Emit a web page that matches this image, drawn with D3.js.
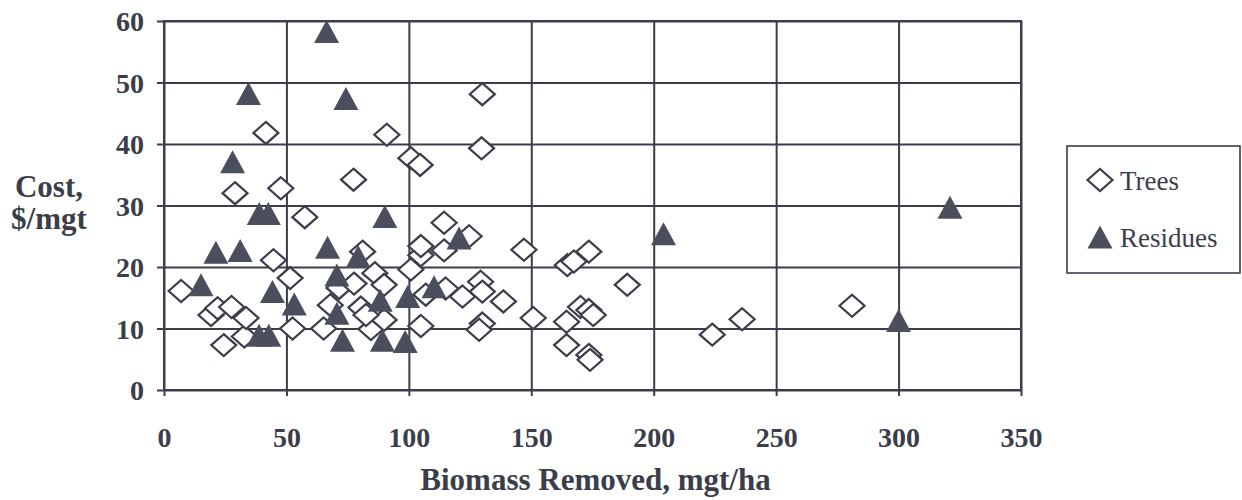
<!DOCTYPE html>
<html><head><meta charset="utf-8">
<script src="https://cdn.jsdelivr.net/npm/d3@7"></script>
<style>html,body{margin:0;padding:0;background:#fff;}svg{display:block;}</style>
</head><body>
<script>
// ---- data ----
const xTicks = [0, 50, 100, 150, 200, 250, 300, 350];
const yTicks = [0, 10, 20, 30, 40, 50, 60];
const seriesNames = ["Trees", "Residues"];
const treesX = [7, 19.2, 21.9, 24.4, 27.6, 29, 32.8, 33.5, 41.6, 44.7, 47.7, 51.5, 52.5, 57.5, 65.2, 67.9, 71.5, 77.4, 77.6, 80.4, 81.1, 84.5, 86.1, 89.9, 89.9, 91, 100.8, 104.6, 100.8, 104.9, 104.9, 106.9, 104.9, 114.4, 114.4, 115, 121.9, 124.6, 129.3, 130, 130, 128.7, 130, 129.7, 138.6, 147, 150.8, 164.7, 167.4, 173.5, 164.4, 164.4, 170.1, 173.5, 175.3, 173.5, 174, 189.2, 223.9, 236.1, 281, 82.5];
const treesY = [16.1, 12.2, 13.3, 7.3, 13.5, 32, 8.7, 11.7, 41.8, 21.1, 32.8, 18.2, 10.0, 28.1, 10.0, 13.8, 16.6, 34.2, 17.3, 13.4, 22.5, 9.9, 19, 17.1, 11.4, 41.5, 37.7, 36.6, 19.6, 21.9, 23.4, 15.5, 10.4, 27.2, 22.7, 16.5, 15.2, 25, 17.6, 16, 10.8, 9.8, 48.1, 39.3, 14.4, 22.8, 11.7, 20.3, 20.9, 22.5, 11.1, 7.3, 13.5, 13.0, 12.2, 5.7, 4.9, 17.1, 9.0, 11.5, 13.7, 12.2];
const residuesX = [15.1, 21.2, 28, 31.1, 34.5, 38.9, 42.6, 38.8, 42.8, 44.3, 53.2, 66.4, 66.8, 70.6, 70.6, 72.9, 74.3, 79.3, 88.3, 89.2, 90.2, 98.5, 99.5, 110.3, 120.5, 204, 300, 321];
const residuesY = [17.1, 22.4, 37.1, 22.7, 48.2, 28.7, 28.7, 8.9, 8.9, 16.0, 14.0, 58.3, 23.2, 18.7, 12.5, 8.1, 47.4, 21.7, 14.6, 8.1, 28.2, 7.9, 15.2, 16.8, 24.7, 25.4, 11.3, 29.7];
const xTitle = "Biomass Removed, mgt/ha";
const yTitle = ["Cost,", "$/mgt"];

// ---- layout ----
const W = 1242, H = 500;
const L = 164, R = 1021, T = 21, B = 390;
const ink = "#3b3e4a";
const fillInk = "#4b4e5c";

const svg = d3.select("body").append("svg").attr("width", W).attr("height", H)
  .style("font-family", "'Liberation Serif','Times New Roman',serif");

const x = d3.scaleLinear().domain([0, 350]).range([L, R]);
const y = d3.scaleLinear().domain([0, 60]).range([B, T]);

// grid + axes
const gx = svg.append("g").attr("transform", `translate(0,${B})`)
  .call(d3.axisBottom(x).tickValues(xTicks).tickSize(-(B - T)).tickSizeOuter(0).tickFormat(d3.format("d")));
gx.selectAll(".tick line").attr("y1", 6).attr("stroke", ink).attr("stroke-width", 2);
gx.select(".domain").remove();
gx.selectAll(".tick text").attr("y", 47).attr("dy", "0.34em")
  .attr("fill", ink).style("font-size", "28px").style("font-weight", "bold").style("font-family", "'Liberation Serif',serif");

const gy = svg.append("g").attr("transform", `translate(${L},0)`)
  .call(d3.axisLeft(y).tickValues(yTicks).tickSize(-(R - L)).tickSizeOuter(0).tickFormat(d3.format("d")));
gy.selectAll(".tick line").attr("x1", -7).attr("stroke", ink).attr("stroke-width", 2);
gy.select(".domain").remove();
gy.selectAll(".tick text").attr("x", -20).attr("dy", "0.34em")
  .attr("fill", ink).style("font-size", "28px").style("font-weight", "bold").style("font-family", "'Liberation Serif',serif");

// frame
svg.append("rect").attr("x", L).attr("y", T).attr("width", R - L).attr("height", B - T)
  .attr("fill", "none").attr("stroke", ink).attr("stroke-width", 2);

// marker shapes
const diamondType = { draw(ctx) { ctx.moveTo(0, -11); ctx.lineTo(12.5, 0); ctx.lineTo(0, 11); ctx.lineTo(-12.5, 0); ctx.closePath(); } };
const triType = { draw(ctx) { ctx.moveTo(0, -11.5); ctx.lineTo(12.5, 11.5); ctx.lineTo(-12.5, 11.5); ctx.closePath(); } };
const diamondPath = d3.symbol().type(diamondType)();
const triPath = d3.symbol().type(triType)();

const trees = treesX.map((v, i) => ({ x: v, y: treesY[i] }));
const residues = residuesX.map((v, i) => ({ x: v, y: residuesY[i] }));

svg.append("g").selectAll("path").data(trees).join("path")
  .attr("d", diamondPath)
  .attr("transform", d => `translate(${x(d.x)},${y(d.y)})`)
  .attr("fill", "#fff").attr("stroke", ink).attr("stroke-width", 2.2);

svg.append("g").selectAll("path").data(residues).join("path")
  .attr("d", triPath)
  .attr("transform", d => `translate(${x(d.x)},${y(d.y)})`)
  .attr("fill", fillInk).attr("stroke", "none");

// axis titles
svg.append("text").attr("x", (L + R) / 2 + 3).attr("y", 490).attr("text-anchor", "middle")
  .attr("fill", ink).style("font-size", "31px").style("font-weight", "bold").text(xTitle);
svg.append("text").attr("x", 49).attr("y", 197).attr("text-anchor", "middle")
  .attr("fill", ink).style("font-size", "31px").style("font-weight", "bold").text(yTitle[0]);
svg.append("text").attr("x", 49).attr("y", 229).attr("text-anchor", "middle")
  .attr("fill", ink).style("font-size", "31px").style("font-weight", "bold").text(yTitle[1]);

// legend
const lg = svg.append("g");
lg.append("rect").attr("x", 1067).attr("y", 146).attr("width", 173).attr("height", 127)
  .attr("fill", "#fff").attr("stroke", ink).attr("stroke-width", 1.6);
const legendItems = [
  { name: seriesNames[0], path: diamondPath, fill: "#fff", stroke: ink, cy: 180 },
  { name: seriesNames[1], path: triPath, fill: fillInk, stroke: "none", cy: 237 }
];
legendItems.forEach(it => {
  lg.append("path").attr("d", it.path).attr("transform", `translate(1100,${it.cy})`)
    .attr("fill", it.fill).attr("stroke", it.stroke).attr("stroke-width", 2.2);
  lg.append("text").attr("x", 1120).attr("y", it.cy + 10).attr("fill", ink)
    .style("font-size", "27px").text(it.name);
});
</script>
</body></html>
